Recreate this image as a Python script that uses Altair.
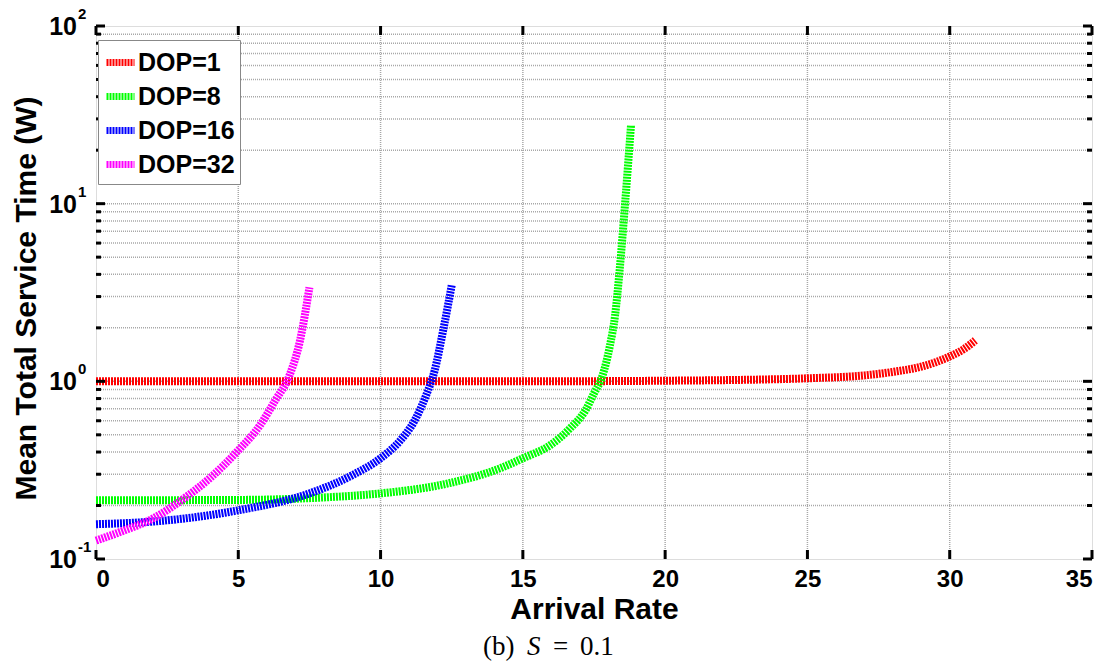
import altair as alt
import pandas as pd

# ---- data ----
series_names = ["DOP=1", "DOP=8", "DOP=16", "DOP=32"]
series_colors = ["#ff0000", "#00ff00", "#0000ff", "#ff00ff"]

dop1_x = [0, 5, 10, 15, 20, 22.5, 25, 27, 28, 29, 29.5, 30, 30.5, 30.9]
dop1_y = [1.0, 1.0, 1.0, 1.0, 1.008, 1.018, 1.04, 1.08, 1.13, 1.21, 1.28, 1.38, 1.52, 1.7]

dop8_x = [0, 5, 8, 10, 12.4, 14.2, 15, 15.95, 16.66, 17.2, 17.5, 17.8, 18.06, 18.24, 18.4, 18.6, 18.8]
dop8_y = [0.214, 0.215, 0.222, 0.234, 0.267, 0.324, 0.369, 0.436, 0.544, 0.687, 0.856, 1.08,
          1.59, 2.35, 4.21, 10.4, 27.6]

dop16_x = [0, 2.5, 5, 7.5, 9, 10, 10.7, 11.2, 11.6, 11.9, 12.2, 12.5]
dop16_y = [0.157, 0.165, 0.188, 0.234, 0.296, 0.369, 0.466, 0.603, 0.834, 1.15, 1.94, 3.47]

dop32_x = [0, 1, 2, 3, 4, 5, 5.76, 6.3, 6.8, 7.17, 7.5]
dop32_y = [0.127, 0.145, 0.169, 0.214, 0.285, 0.409, 0.565, 0.782, 1.08, 1.7, 3.38]

x_ticks = [0, 5, 10, 15, 20, 25, 30, 35]
y_decades = [0.1, 1, 10, 100]
y_exponents = ["-1", "0", "1", "2"]

W, H = 996, 533
FONT = "Liberation Sans"
SERIF = "Liberation Serif"

rows = []
for name, xs, ys in zip(series_names, [dop1_x, dop8_x, dop16_x, dop32_x],
                        [dop1_y, dop8_y, dop16_y, dop32_y]):
    for a, b in zip(xs, ys):
        rows.append({"series": name, "x": a, "y": b})
df = pd.DataFrame(rows)

xscale = alt.Scale(domain=[0, 35], nice=False, zero=False)
yscale = alt.Scale(type="log", domain=[0.1, 100], nice=False)

minor_vals = []
for d in [0.1, 1, 10]:
    for k in range(2, 10):
        minor_vals.append(round(k * d, 6))
major_inner = [1, 10]
grid_y = pd.DataFrame({"y": minor_vals + major_inner})
grid_x = pd.DataFrame({"x": x_ticks[1:-1]})
minor_df = pd.DataFrame({"y": minor_vals})
major_df = pd.DataFrame({"y": y_decades})
xt_df = pd.DataFrame({"x": x_ticks})
ylab_df = pd.DataFrame({"y": y_decades, "e": y_exponents})

grid_style = dict(color="#a8a8a8", strokeWidth=1.5, strokeDash=[1, 1])

gx = alt.Chart(grid_x).mark_rule(**grid_style).encode(x=alt.X("x:Q", scale=xscale))
gy = alt.Chart(grid_y).mark_rule(**grid_style).encode(y=alt.Y("y:Q", scale=yscale))

lines = alt.Chart(df).mark_line(strokeWidth=8, strokeDash=[2, 1], interpolate="monotone",
                                strokeCap="butt").encode(
    x=alt.X("x:Q", scale=xscale,
            axis=alt.Axis(values=x_ticks, grid=False, ticks=False, domain=False,
                          labelFont=FONT, labelFontWeight="bold", labelFontSize=24,
                          labelColor="black", labelPadding=8,
                          title="Arrival Rate", titleFont=FONT, titleFontWeight="bold",
                          titleFontSize=30, titleColor="black", titlePadding=3)),
    y=alt.Y("y:Q", scale=yscale,
            axis=alt.Axis(labels=False, grid=False, ticks=False, domain=False,
                          title="Mean Total Service Time (W)", titleFont=FONT,
                          titleFontWeight="bold", titleFontSize=30, titleColor="black",
                          titleX=-70, titleY=272, titleAngle=-90, titleAlign="center",
                          titleBaseline="middle")),
    color=alt.Color("series:N",
                    scale=alt.Scale(domain=series_names, range=series_colors),
                    sort=series_names,
                    legend=alt.Legend(title=None, orient="none", legendX=2, legendY=14,
                                      fillColor="white", strokeColor="#888888",
                                      padding=5, rowPadding=2, symbolType="stroke",
                                      symbolSize=784, symbolStrokeWidth=7,
                                      symbolDash=[2, 1], labelOffset=0,
                                      labelExpr="datum.label + '   '",
                                      labelFont=FONT, labelFontWeight="bold",
                                      labelFontSize=25, labelColor="black")),
    order=alt.Order("x:Q"),
)

tick_style = dict(color="black", strokeWidth=3)
xt_bot = alt.Chart(xt_df).mark_rule(**tick_style).encode(
    x=alt.X("x:Q", scale=xscale), y=alt.value(H), y2=alt.value(H - 9))
xt_top = alt.Chart(xt_df).mark_rule(**tick_style).encode(
    x=alt.X("x:Q", scale=xscale), y=alt.value(0), y2=alt.value(9))
yt_l = alt.Chart(major_df).mark_rule(**tick_style).encode(
    y=alt.Y("y:Q", scale=yscale), x=alt.value(0), x2=alt.value(9))
yt_r = alt.Chart(major_df).mark_rule(**tick_style).encode(
    y=alt.Y("y:Q", scale=yscale), x=alt.value(W - 9), x2=alt.value(W))
ym_l = alt.Chart(minor_df).mark_rule(**tick_style).encode(
    y=alt.Y("y:Q", scale=yscale), x=alt.value(0), x2=alt.value(5))
ym_r = alt.Chart(minor_df).mark_rule(**tick_style).encode(
    y=alt.Y("y:Q", scale=yscale), x=alt.value(W - 5), x2=alt.value(W))

ybase = alt.Chart(ylab_df).mark_text(text="10", font=FONT, fontWeight="bold", fontSize=25,
                                      align="right", baseline="alphabetic", dy=9,
                                      color="black").encode(
    y=alt.Y("y:Q", scale=yscale), x=alt.value(-19))
yexp = alt.Chart(ylab_df).mark_text(font=FONT, fontWeight="bold", fontSize=15,
                                     align="left", baseline="alphabetic", dy=-7,
                                     color="black").encode(
    y=alt.Y("y:Q", scale=yscale), x=alt.value(-18), text="e:N")

# caption "(b) S = 0.1" (S in italics), placed below the x-axis title
cap_y = 629
cap_style = dict(font=SERIF, fontSize=27, align="left", baseline="alphabetic", color="black")
cap1 = alt.Chart(ylab_df.head(1)).mark_text(text="(b)", **cap_style).encode(
    x=alt.value(387), y=alt.value(cap_y))
cap2 = alt.Chart(ylab_df.head(1)).mark_text(text="S", fontStyle="italic", **cap_style).encode(
    x=alt.value(431), y=alt.value(cap_y))
cap3 = alt.Chart(ylab_df.head(1)).mark_text(text="=", **cap_style).encode(
    x=alt.value(457), y=alt.value(cap_y))
cap4 = alt.Chart(ylab_df.head(1)).mark_text(text="0.1", **cap_style).encode(
    x=alt.value(484), y=alt.value(cap_y))

chart = alt.layer(gx, gy, lines, xt_bot, xt_top, yt_l, yt_r, ym_l, ym_r, ybase, yexp,
                  cap1, cap2, cap3, cap4).properties(
    width=W, height=H,
    autosize=alt.AutoSizeParams(type="none"),
    padding={"left": 96, "top": 26, "right": 20, "bottom": 103},
).configure_view(stroke="black", strokeWidth=3.5).configure(background="white")

chart.save("out.html", embed_options={"renderer": "svg", "actions": False})
